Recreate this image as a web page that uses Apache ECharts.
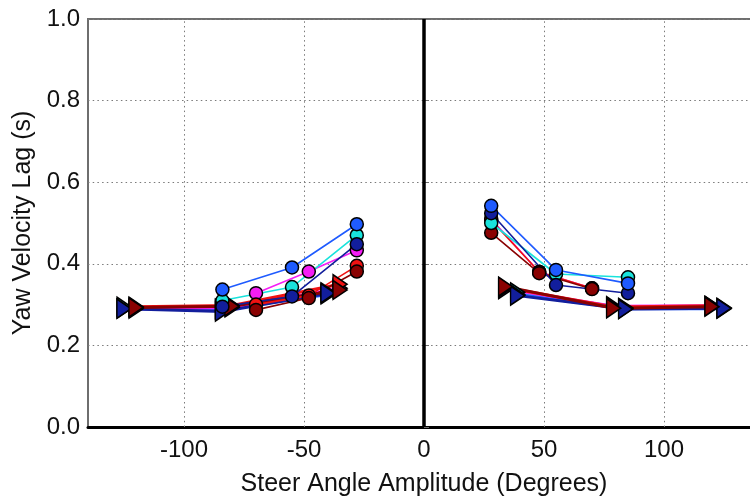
<!DOCTYPE html>
<html><head><meta charset="utf-8">
<script src="https://cdn.jsdelivr.net/npm/echarts@6/dist/echarts.min.js"></script>
<style>html,body{margin:0;padding:0;background:#fff}#c{width:750px;height:496px}</style>
</head><body><div id="c"></div>
<script>
// ---- data ----
const colorNames = ['blue','cyan','navy','magenta','red','darkred'];
const colors = {blue:'#1f5bff', cyan:'#19e3dc', navy:'#121e9c', magenta:'#f51ef5', red:'#f01212', darkred:'#8a0202'};

// circle series, left side (negative amplitudes)
const leftCircX = {blue:[-84,-55,-28], cyan:[-84,-55,-28], navy:[-84,-55,-28], magenta:[-70,-48,-28], red:[-70,-48,-28], darkred:[-70,-48,-28]};
const leftCircY = {blue:[0.337,0.391,0.497], cyan:[0.310,0.343,0.470], navy:[0.295,0.320,0.448], magenta:[0.328,0.381,0.433], red:[0.300,0.322,0.395], darkred:[0.287,0.316,0.381]};
// circle series, right side
const rightCircX = {blue:[28,55,85], cyan:[28,55,85], navy:[28,55,85], magenta:[28,48,70], red:[28,48,70], darkred:[28,48,70]};
const rightCircY = {blue:[0.542,0.385,0.352], cyan:[0.500,0.375,0.367], navy:[0.524,0.348,0.328], magenta:[0.510,0.380,0.340], red:[0.507,0.380,0.340], darkred:[0.476,0.377,0.338]};
// triangle series, left side
const leftTriX = {blue:[-125,-84,-40], cyan:[-125,-84,-40], navy:[-125,-84,-40], magenta:[-120,-80,-35], red:[-120,-80,-35], darkred:[-120,-80,-35]};
const leftTriY = {blue:[0.290,0.288,0.325], cyan:[0.295,0.290,0.330], navy:[0.290,0.283,0.328], magenta:[0.290,0.293,0.340], red:[0.295,0.298,0.350], darkred:[0.293,0.296,0.336]};
// triangle series, right side
const rightTriX = {blue:[39,84,125], cyan:[39,84,125], navy:[39,84,125], magenta:[34,79,120], red:[34,79,120], darkred:[34,79,120]};
const rightTriY = {blue:[0.325,0.290,0.290], cyan:[0.330,0.292,0.292], navy:[0.322,0.289,0.291], magenta:[0.338,0.296,0.297], red:[0.342,0.294,0.297], darkred:[0.344,0.291,0.295]};

const xTickLabels = [-100,-50,0,50,100];
const xGridValues = [-100,-50,50,100];
const zeroLineX = 0;
const triOrder = ['cyan','blue','magenta','red','navy','darkred'];
const circOrder = ['magenta','red','darkred','cyan','navy','blue'];

const FONT = 'Liberation Sans';
const zip = (xs, ys) => xs.map((x,i)=>[x, ys[i]]);

const series = [];
// helper series: grid lines and zero line
series.push({
  type:'line', data:[], silent:true,
  markLine:{symbol:'none', silent:true, label:{show:false},
    lineStyle:{color:'#7a7a7a', width:1, type:[1.5,3.2]},
    data: xGridValues.map(v=>({xAxis:v}))}
});
series.push({
  type:'line', data:[], silent:true, z:3,
  markLine:{symbol:'none', silent:true, label:{show:false},
    lineStyle:{color:'#000', width:3.5, type:'solid'},
    data:[{xAxis:zeroLineX}]}
});

function addSeries(order, xs, ys, sym){
  order.forEach(c=>{
    series.push({
      type:'line', data: zip(xs[c], ys[c]),
      symbol: sym==='tri' ? 'triangle' : 'circle',
      symbolSize: sym==='tri' ? [19,14] : 13,
      symbolRotate: sym==='tri' ? -90 : 0,
      showAllSymbol:true,
      lineStyle:{color:colors[c], width: sym==='tri' ? 3 : 1.6},
      itemStyle:{color:colors[c], borderColor:'#000', borderWidth:1.5},
      z: 5, animation:false
    });
  });
}
addSeries(triOrder, leftTriX, leftTriY, 'tri');
addSeries(triOrder, rightTriX, rightTriY, 'tri');
addSeries(circOrder, leftCircX, leftCircY, 'circ');
addSeries(circOrder, rightCircX, rightCircY, 'circ');

const chart = echarts.init(document.getElementById('c'), null, {renderer:'canvas'});
chart.setOption({
  animation:false,
  backgroundColor:'#fff',
  grid:{left:88, width:672, top:19, height:408, outerBoundsMode:'none', containLabel:false,
        show:true, borderColor:'#6e6e6e', borderWidth:2, backgroundColor:'#fff'},
  xAxis:{
    type:'value', min:-140, max:140, interval:10,
    name:'Steer Angle Amplitude (Degrees)', nameLocation:'middle', nameGap:45,
    nameTextStyle:{fontFamily:FONT, fontSize:25, color:'#111'},
    axisLine:{show:true, onZero:false, lineStyle:{color:'#000', width:3}},
    axisTick:{show:false},
    splitLine:{show:false},
    axisLabel:{fontFamily:FONT, fontSize:24, color:'#111', margin:11,
      formatter:v=> xTickLabels.indexOf(Math.round(v))>=0 ? String(Math.round(v)) : ''}
  },
  yAxis:{
    type:'value', min:0, max:1, interval:0.2,
    name:'Yaw Velocity Lag (s)', nameLocation:'middle', nameGap:51,
    nameTextStyle:{fontFamily:FONT, fontSize:25, color:'#111'},
    axisLine:{show:true, lineStyle:{color:'#6e6e6e', width:2}},
    axisTick:{show:true, inside:true, length:5, lineStyle:{color:'#6e6e6e'}},
    splitLine:{show:true, lineStyle:{color:'#7a7a7a', width:1, type:[1.5,3.2]}},
    axisLabel:{fontFamily:FONT, fontSize:24, color:'#111', margin:8, formatter:v=>v.toFixed(1)}
  },
  series
});
</script></body></html>
